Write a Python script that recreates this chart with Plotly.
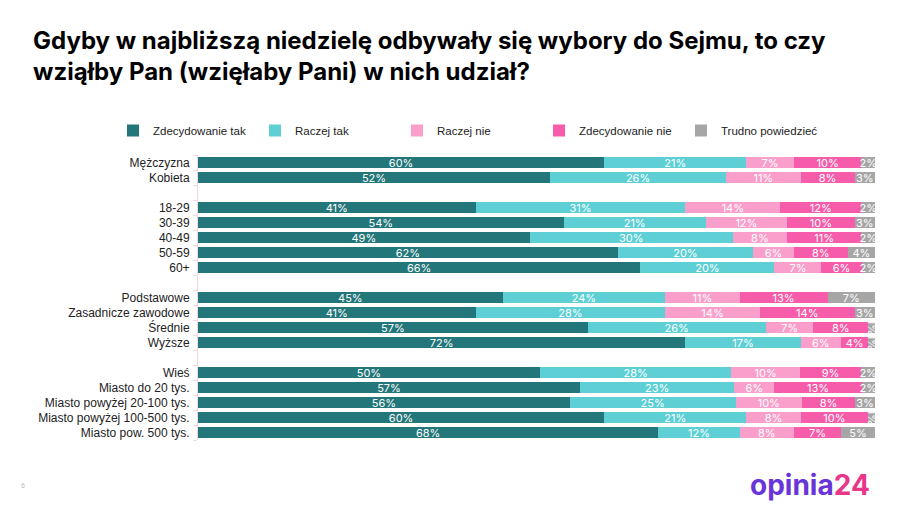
import plotly.graph_objects as go

categories = ["Mężczyzna", "Kobieta", "", "18-29", "30-39", "40-49", "50-59", "60+", "",
              "Podstawowe", "Zasadnicze zawodowe", "Średnie", "Wyższe", "",
              "Wieś", "Miasto do 20 tys.", "Miasto powyżej 20-100 tys.",
              "Miasto powyżej 100-500 tys.", "Miasto pow. 500 tys."]

series_names = ["Zdecydowanie tak", "Raczej tak", "Raczej nie", "Zdecydowanie nie", "Trudno powiedzieć"]

zdecydowanie_tak = [60, 52, None, 41, 54, 49, 62, 66, None, 45, 41, 57, 72, None, 50, 57, 56, 60, 68]
raczej_tak       = [21, 26, None, 31, 21, 30, 20, 20, None, 24, 28, 26, 17, None, 28, 23, 25, 21, 12]
raczej_nie       = [7, 11, None, 14, 12, 8, 6, 7, None, 11, 14, 7, 6, None, 10, 6, 10, 8, 8]
zdecydowanie_nie = [10, 8, None, 12, 10, 11, 8, 6, None, 13, 14, 8, 4, None, 9, 13, 8, 10, 7]
trudno           = [2, 3, None, 2, 3, 2, 4, 2, None, 7, 3, 1, 1, None, 2, 2, 3, 1, 5]

colors = ["#237679", "#5dcfd5", "#fa9fcb", "#f65ca9", "#a6a6a6"]

series = [zdecydowanie_tak, raczej_tak, raczej_nie, zdecydowanie_nie, trudno]
positions = list(range(len(categories)))

# Figure is drawn 8 px in from the page's top-left corner (default body margin).
W, H = 907, 506
L, R, T, B = 190, 40, 147, 74
PW, PH = W - L - R, H - T - B

fig = go.Figure()
for name, vals, col in zip(series_names, series, colors):
    fig.add_trace(go.Bar(
        y=positions, x=vals, name=name, orientation="h",
        marker=dict(color=col, line=dict(width=0)),
        text=[f"{v}%" if v is not None else "" for v in vals],
        textposition="inside", insidetextanchor="middle",
        textfont=dict(color="white", size=11, family="Inter"),
        hoverinfo="skip",
    ))

fig.update_layout(
    width=W, height=H,
    barmode="stack", barnorm="percent", bargap=0.27,
    plot_bgcolor="white", paper_bgcolor="white",
    margin=dict(l=L, r=R, t=T, b=B, autoexpand=False),
    uniformtext=dict(minsize=11, mode="show"),
    title=dict(
        text="Gdyby w najbliższą niedzielę odbywały się wybory do Sejmu, to czy<br>wziąłby Pan (wzięłaby Pani) w nich udział?",
        x=25 / W, xanchor="left", xref="container",
        y=1 - 41 / H, yanchor="top", yref="container",
        font=dict(family="Inter", size=24, color="black", weight="bold"),
    ),
    legend=dict(
        orientation="h", xref="paper", yref="paper",
        x=(105 - L) / PW, xanchor="left", y=1 + (T - 108) / PH, yanchor="top",
        font=dict(family="Liberation Sans, Arial", size=11.5, color="#222"),
        itemwidth=30, entrywidth=97, traceorder="normal",
    ),
    xaxis=dict(range=[0, 100], showgrid=False, zeroline=False, showticklabels=False,
               showline=False, fixedrange=True),
    yaxis=dict(range=[18.5, -0.5], tickvals=positions, ticktext=categories,
               showgrid=False, zeroline=False, showline=True, linecolor="#f1dadc", linewidth=1,
               ticks="", tickfont=dict(family="Liberation Sans, Arial", size=12, color="#222"),
               ticklabelstandoff=5,
               minor=dict(ticks="outside", tick0=0.5, dtick=1, ticklen=4, tickcolor="#f1dadc")),
    annotations=[
        dict(text="<b><span style='color:#6a35d8'>opinia</span><span style='color:#e8378a'>24</span></b>",
             xref="paper", yref="paper", x=(864 - L) / PW, y=(T + PH - 458) / PH,
             xanchor="right", yanchor="top",
             showarrow=False, font=dict(family="Inter", size=28)),
        dict(text="6", xref="paper", yref="paper", x=(11 - L) / PW, y=(T + PH - 477) / PH,
             xanchor="left", yanchor="middle",
             showarrow=False, font=dict(family="Liberation Sans", size=7, color="#bbbbbb")),
    ],
)

fig.write_html("out.html")
